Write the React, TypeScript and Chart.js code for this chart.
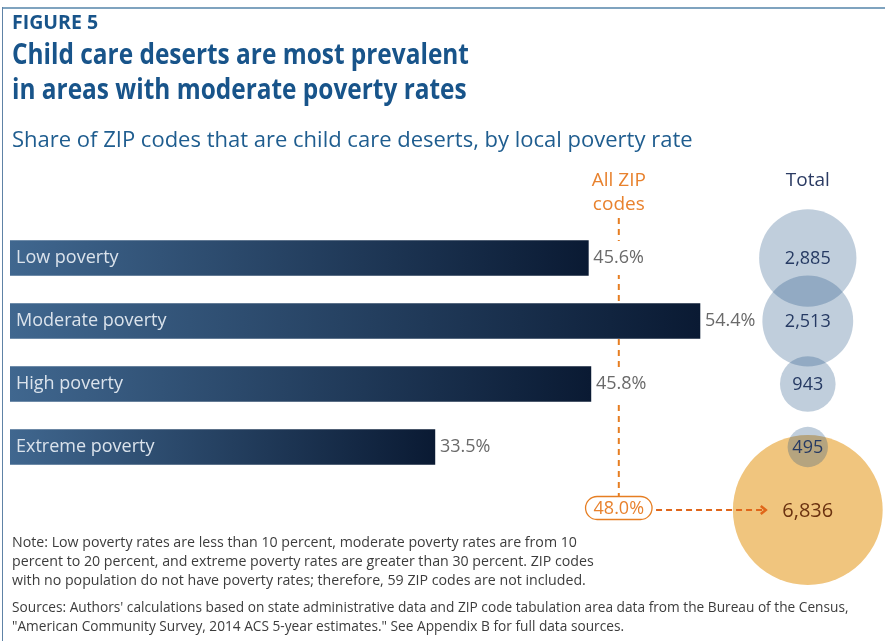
import React, { useEffect, useRef } from "react";
import { Chart, registerables } from "chart.js";

Chart.register(...registerables);

const FONT = '"Open Sans", "Noto Sans", sans-serif';

const CATEGORIES = ["Low poverty", "Moderate poverty", "High poverty", "Extreme poverty", "All ZIP codes"];
const SHARE_PCT: (number | null)[] = [45.6, 54.4, 45.8, 33.5, null];
const SHARE_LABELS = ["45.6%", "54.4%", "45.8%", "33.5%"];
const ALL_ZIP_SHARE = 48.0;
const ALL_ZIP_LABEL = "48.0%";
const GROUP_TOTALS = [2885, 2513, 943, 495];
const TOTAL_LABELS = ["2,885", "2,513", "943", "495"];
const ALL_ZIP_TOTAL = 6836;
const ALL_ZIP_TOTAL_LABEL = "6,836";

const X_MAX = 68.2;
const TOTAL_COLUMN = 62.9;
const BUBBLE_SCALE = 0.906;

const overlayPlugin = {
  id: "overlay",
  beforeDatasetsDraw(chart: any) {
    const { ctx, scales } = chart;
    const x = scales.x;
    const y = scales.y;
    const lx = x.getPixelForValue(ALL_ZIP_SHARE);
    const top = y.getPixelForValue(0) - 40;
    const bottom = y.getPixelForValue(4) - 13;
    ctx.save();
    ctx.strokeStyle = "#e67e22";
    ctx.lineWidth = 2;
    ctx.setLineDash([6, 5]);
    ctx.beginPath();
    ctx.moveTo(lx, top);
    ctx.lineTo(lx, bottom);
    ctx.stroke();
    ctx.restore();
  },
  afterDatasetsDraw(chart: any) {
    const { ctx, scales } = chart;
    const x = scales.x;
    const y = scales.y;
    const x0 = x.getPixelForValue(0);
    const lx = x.getPixelForValue(ALL_ZIP_SHARE);
    const cx = x.getPixelForValue(TOTAL_COLUMN);
    const row0 = y.getPixelForValue(0);
    ctx.save();
    ctx.textBaseline = "middle";

    // headers
    ctx.font = `19px ${FONT}`;
    ctx.textAlign = "center";
    ctx.fillStyle = "#e8822e";
    ctx.fillText("All ZIP", lx, row0 - 77);
    ctx.fillText("codes", lx, row0 - 53);
    ctx.fillStyle = "#2b3b63";
    ctx.fillText("Total", cx, row0 - 77);

    // bar labels and values
    for (let i = 0; i < SHARE_LABELS.length; i++) {
      const ry = y.getPixelForValue(i);
      const v = SHARE_PCT[i] as number;
      ctx.textAlign = "left";
      ctx.font = `18px ${FONT}`;
      ctx.fillStyle = "#dbe3ec";
      ctx.fillText(CATEGORIES[i], x0 + 6, ry);
      const bx = x.getPixelForValue(v) + 5;
      const w = ctx.measureText(SHARE_LABELS[i]).width;
      if (bx - 2 < lx && bx + w + 2 > lx) {
        ctx.fillStyle = "#ffffff";
        ctx.fillRect(bx - 1, ry - 17, w + 3, 34);
      }
      ctx.fillStyle = "#6a6a6a";
      ctx.fillText(SHARE_LABELS[i], bx, ry);
    }

    // bubble labels
    ctx.textAlign = "center";
    ctx.font = `18px ${FONT}`;
    ctx.fillStyle = "#263a63";
    for (let i = 0; i < TOTAL_LABELS.length; i++) {
      ctx.fillText(TOTAL_LABELS[i], cx, y.getPixelForValue(i) + 1);
    }
    const row4 = y.getPixelForValue(4);
    ctx.font = `20px ${FONT}`;
    ctx.fillStyle = "#6b3210";
    ctx.fillText(ALL_ZIP_TOTAL_LABEL, cx, row4 + 1);

    // pill
    ctx.font = `18px ${FONT}`;
    const tw = ctx.measureText(ALL_ZIP_LABEL).width;
    const pw = tw + 16;
    const ph = 23;
    const py = row4 - 2;
    ctx.fillStyle = "#ffffff";
    ctx.strokeStyle = "#e67e22";
    ctx.lineWidth = 1.3;
    ctx.beginPath();
    ctx.roundRect(lx - pw / 2, py - ph / 2, pw, ph, ph / 2);
    ctx.fill();
    ctx.stroke();
    ctx.fillStyle = "#e8822e";
    ctx.fillText(ALL_ZIP_LABEL, lx, py + 1);

    // arrow
    const ax0 = lx + pw / 2 + 4;
    const ax1 = cx - 42;
    ctx.strokeStyle = "#e0661a";
    ctx.lineWidth = 2;
    ctx.setLineDash([6, 4]);
    ctx.beginPath();
    ctx.moveTo(ax0, row4);
    ctx.lineTo(ax1 - 3, row4);
    ctx.stroke();
    ctx.setLineDash([]);
    ctx.lineWidth = 2.5;
    ctx.beginPath();
    ctx.moveTo(ax1 - 5, row4 - 4);
    ctx.lineTo(ax1, row4);
    ctx.lineTo(ax1 - 5, row4 + 4);
    ctx.stroke();
    ctx.restore();
  },
};

function ChartCanvas() {
  const ref = useRef<HTMLCanvasElement | null>(null);
  useEffect(() => {
    if (!ref.current) return;
    const barGradient = (c: any) => {
      const chart = c.chart;
      const v = c.raw;
      if (!chart.chartArea || c.type !== "data" || typeof v !== "number") return "#1f3a5c";
      const xs = chart.scales.x;
      const a = xs.getPixelForValue(0);
      const b = xs.getPixelForValue(v);
      if (!Number.isFinite(a) || !Number.isFinite(b)) return "#1f3a5c";
      const g = chart.ctx.createLinearGradient(a, 0, b, 0);
      g.addColorStop(0, "#40678f");
      g.addColorStop(1, "#0a1a33");
      return g;
    };
    const chart = new Chart(ref.current, {
      type: "bar",
      data: {
        labels: CATEGORIES,
        datasets: [
          {
            type: "bar",
            label: "Share of ZIP codes that are child care deserts",
            data: SHARE_PCT as any,
            indexAxis: "y",
            barThickness: 35,
            backgroundColor: barGradient,
            borderWidth: 0,
            order: 3,
          } as any,
          {
            type: "bubble",
            label: "All ZIP codes total",
            data: [{ x: TOTAL_COLUMN, y: CATEGORIES[4], r: BUBBLE_SCALE * Math.sqrt(ALL_ZIP_TOTAL) }],
            backgroundColor: "#f0c57e",
            borderWidth: 0,
            clip: false,
            order: 2,
          } as any,
          {
            type: "bubble",
            label: "Total",
            data: GROUP_TOTALS.map((v, i) => ({ x: TOTAL_COLUMN, y: CATEGORIES[i], r: BUBBLE_SCALE * Math.sqrt(v) })),
            backgroundColor: "rgba(30, 80, 130, 0.28)",
            borderWidth: 0,
            clip: false,
            order: 1,
          } as any,
        ],
      },
      options: {
        animation: false,
        responsive: false,
        devicePixelRatio: 1,
        indexAxis: "y",
        layout: { autoPadding: false, padding: { left: 10, right: 10, top: 226.5, bottom: 99.5 } },
        scales: {
          x: { type: "linear", min: 0, max: X_MAX, display: false },
          y: { type: "category", display: false, offset: true },
        },
        plugins: { legend: { display: false }, tooltip: { enabled: false }, title: { display: false } },
        elements: { point: { hoverRadius: 0 } },
      } as any,
      plugins: [overlayPlugin],
    });
    return () => chart.destroy();
  }, []);
  return <canvas ref={ref} width={885} height={641} style={{ position: "absolute", left: 0, top: 0, width: 885, height: 641 }} />;
}

const TITLE_COLOR = "#18548a";

export default function App() {
  const abs = (left: number, top: number, fs: number, lh: number, extra: any = {}) => ({
    position: "absolute" as const,
    left,
    top,
    fontSize: fs,
    lineHeight: `${lh}px`,
    fontFamily: FONT,
    whiteSpace: "nowrap" as const,
    margin: 0,
    ...extra,
  });
  return (
    <div style={{ position: "absolute", left: 0, top: 0, width: 885, height: 641, background: "#fff", overflow: "hidden" }}>
      <div style={{ position: "absolute", left: 2, top: 7, width: 883, height: 2, background: "#7fa3bf" }} />
      <div style={{ position: "absolute", left: 2, top: 7, width: 1, height: 634, background: "#5e82a6" }} />
      <ChartCanvas />
      <div style={abs(12, 11.7, 19.5, 19.5, { fontWeight: 700, color: TITLE_COLOR })}>FIGURE 5</div>
      <div
        style={abs(12, 35.5, 28, 35, {
          fontWeight: 700,
          color: TITLE_COLOR,
          transform: "scaleX(0.872)",
          transformOrigin: "0 0",
        })}
      >
        Child care deserts are most prevalent
        <br />
        in areas with moderate poverty rates
      </div>
      <div style={abs(12, 126.5, 22, 22, { color: "#1f5d8f" })}>
        Share of ZIP codes that are child care deserts, by local poverty rate
      </div>
      <div style={abs(12, 532, 14.2, 19, { color: "#3c3c3c" })}>
        Note: Low poverty rates are less than 10 percent, moderate poverty rates are from 10
        <br />
        percent to 20 percent, and extreme poverty rates are greater than 30 percent. ZIP codes
        <br />
        with no population do not have poverty rates; therefore, 59 ZIP codes are not included.
      </div>
      <div style={abs(12, 596.5, 13.7, 19.5, { color: "#3c3c3c" })}>
        Sources: Authors' calculations based on state administrative data and ZIP code tabulation area data from the Bureau of the Census,
        <br />
        "American Community Survey, 2014 ACS 5-year estimates." See Appendix B for full data sources.
      </div>
    </div>
  );
}
